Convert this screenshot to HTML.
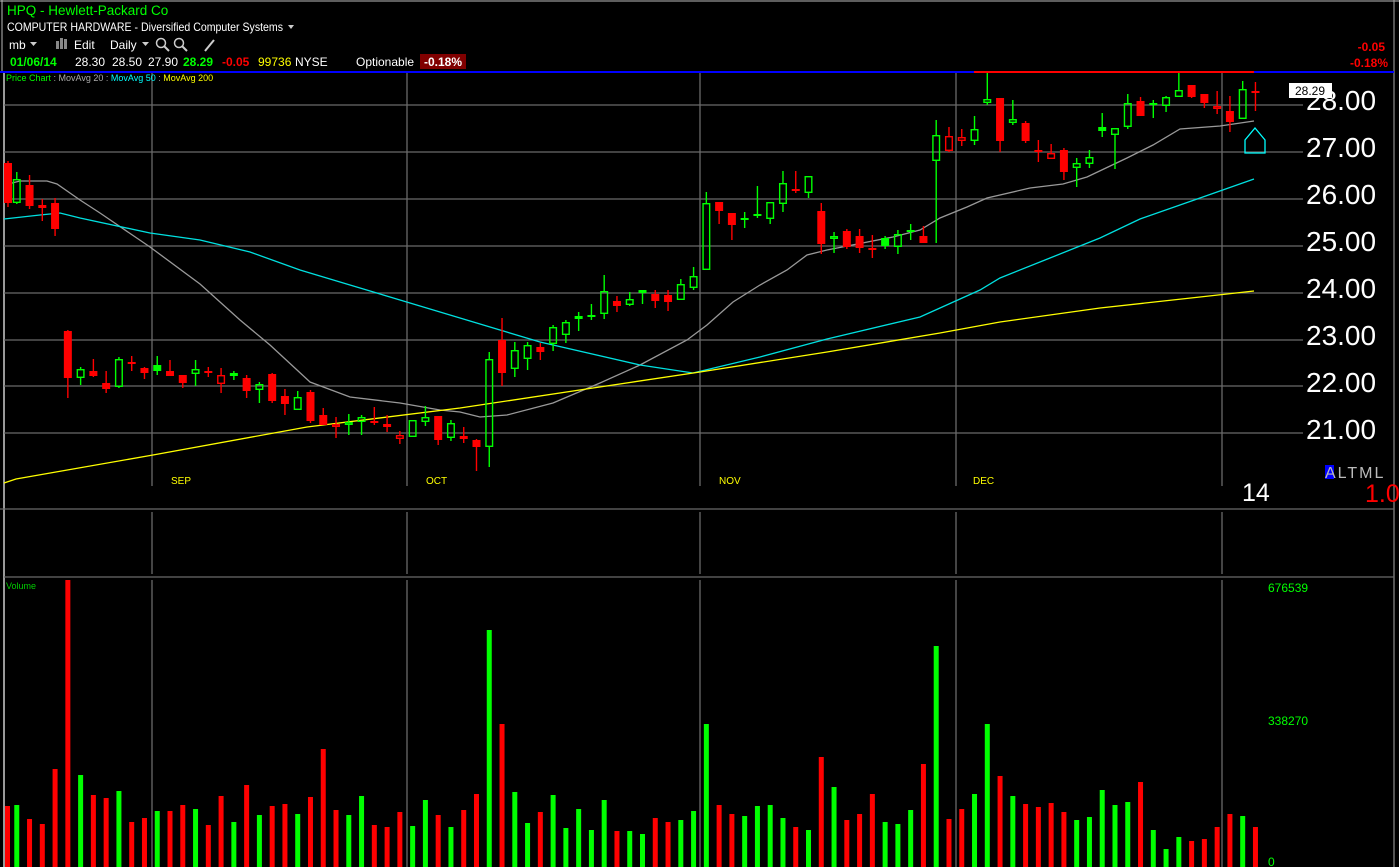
<!DOCTYPE html>
<html><head><meta charset="utf-8"><style>
html,body{margin:0;padding:0;background:#000;width:1399px;height:867px;overflow:hidden}
svg{display:block}
text{font-family:"Liberation Sans",sans-serif}
</style></head><body>
<svg id="s" width="1399" height="867" viewBox="0 0 1399 867" xmlns="http://www.w3.org/2000/svg">
<rect width="1399" height="867" fill="#000"/>
<line x1="0" y1="1" x2="1399" y2="1" stroke="#bbb"/>
<line x1="2" y1="0" x2="2" y2="72" stroke="#bbb"/>
<line x1="1394" y1="0" x2="1394" y2="867" stroke="#aaa"/>
<line x1="4" y1="72" x2="4" y2="867" stroke="#999" stroke-width="2"/>
<g id="grid" stroke="#6a6a6a" stroke-width="1.3"></g>
<line x1="0" y1="72" x2="1394" y2="72" stroke="#0000ff" stroke-width="2"/>
<line x1="974" y1="72" x2="1254" y2="72" stroke="#ff0000" stroke-width="2"/>
<g id="ma"></g>
<g id="cd"></g>
<g id="vol"></g>
<!-- header -->
<text x="7" y="15" fill="#00ff00" font-size="13.5">HPQ  -  Hewlett-Packard Co</text>
<text x="7" y="31" fill="#fff" font-size="12" textLength="276" lengthAdjust="spacingAndGlyphs">COMPUTER HARDWARE - Diversified Computer Systems</text>
<path d="M288,25 l6,0 l-3,4z" fill="#ccc"/>
<text x="9" y="49" fill="#fff" font-size="12">mb</text>
<path d="M30,42 l7,0 l-3.5,4z" fill="#ccc"/>
<rect x="56" y="41" width="3" height="8" fill="#888"/><rect x="60" y="38" width="3" height="11" fill="#888"/><rect x="64" y="39" width="3" height="10" fill="#888"/>
<text x="74" y="49" fill="#fff" font-size="12">Edit</text>
<text x="110" y="49" fill="#fff" font-size="12">Daily</text>
<path d="M142,42 l7,0 l-3.5,4z" fill="#ccc"/>
<circle cx="161" cy="43" r="4.5" fill="none" stroke="#ccc" stroke-width="1.5"/><line x1="164" y1="46" x2="169" y2="51" stroke="#ccc" stroke-width="2"/>
<circle cx="179" cy="43" r="4.5" fill="none" stroke="#ccc" stroke-width="1.5"/><line x1="182" y1="46" x2="187" y2="51" stroke="#ccc" stroke-width="2"/>
<line x1="205" y1="51" x2="214" y2="40" stroke="#ccc" stroke-width="2"/>
<text x="10" y="66" fill="#00ff00" font-size="12" font-weight="bold">01/06/14</text>
<text x="75" y="66" fill="#fff" font-size="12">28.30</text>
<text x="112" y="66" fill="#fff" font-size="12">28.50</text>
<text x="148" y="66" fill="#fff" font-size="12">27.90</text>
<text x="183" y="66" fill="#00ff00" font-size="12" font-weight="bold">28.29</text>
<text x="222" y="66" fill="#ff0000" font-size="12" font-weight="bold">-0.05</text>
<text x="258" y="66" fill="#ffff00" font-size="12">99736</text>
<text x="295" y="66" fill="#fff" font-size="12">NYSE</text>
<text x="356" y="66" fill="#fff" font-size="12">Optionable</text>
<rect x="420" y="54" width="46" height="15" fill="#800000"/>
<text x="424" y="66" fill="#fff" font-size="12" font-weight="bold">-0.18%</text>
<text x="1385" y="51" fill="#ff0000" font-size="12" font-weight="bold" text-anchor="end">-0.05</text>
<text x="1388" y="67" fill="#ff0000" font-size="12" font-weight="bold" text-anchor="end">-0.18%</text>
<text x="6" y="81" font-size="9"><tspan fill="#00ff00">Price Chart</tspan><tspan fill="#aaa"> : MovAvg 20 : </tspan><tspan fill="#00ffff">MovAvg 50 </tspan><tspan fill="#aaa">: </tspan><tspan fill="#ffff00">MovAvg 200</tspan></text>
<!-- price axis -->
<g fill="#fff" font-size="28">
<text x="1306" y="110">28.00</text><text x="1306" y="157">27.00</text><text x="1306" y="204">26.00</text><text x="1306" y="251">25.00</text>
<text x="1306" y="298">24.00</text><text x="1306" y="345">23.00</text><text x="1306" y="392">22.00</text><text x="1306" y="439">21.00</text>
</g>
<rect x="1289" y="83" width="43" height="15" fill="#fff"/>
<text x="1295" y="95" fill="#000" font-size="12">28.29</text>
<path d="M1255,128 L1265,140 L1265,153 L1245,153 L1245,140 Z" fill="none" stroke="#00ffff" stroke-width="1.3"/>
<g fill="#ffff00" font-size="10"><text x="171" y="484">SEP</text><text x="426" y="484">OCT</text><text x="719" y="484">NOV</text><text x="973" y="484">DEC</text></g>
<text x="1242" y="501" fill="#fff" font-size="25">14</text>
<rect x="1325" y="465" width="9" height="14" fill="#0000ff"/>
<text x="1325" y="478" fill="#bbb" font-size="16" letter-spacing="2">ALTML</text>
<text x="1365" y="502" fill="#ff0000" font-size="25">1.0</text>
<text x="6" y="589" fill="#00cc00" font-size="9">Volume</text>
<g fill="#00ff00" font-size="12"><text x="1268" y="592">676539</text><text x="1268" y="725">338270</text><text x="1268" y="866">0</text></g>
</svg>
<script>
(function(){
var NS="http://www.w3.org/2000/svg";
function el(p,t,a){var e=document.createElementNS(NS,t);for(var k in a)e.setAttribute(k,a[k]);p.appendChild(e);return e;}
var G=document.getElementById('grid');
[105,152,199,246,293,340,386,433].forEach(function(y){el(G,'line',{x1:4,y1:y,x2:1303,y2:y});});
el(G,'line',{x1:0,y1:509,x2:1394,y2:509});
el(G,'line',{x1:4,y1:577,x2:1394,y2:577});
[152,407,700,956,1222].forEach(function(x){
 el(G,'line',{x1:x,y1:73,x2:x,y2:486});el(G,'line',{x1:x,y1:512,x2:x,y2:574});el(G,'line',{x1:x,y1:580,x2:x,y2:867});});
var M=document.getElementById('ma');
function pl(pts,c){el(M,'polyline',{points:pts.map(function(p){return p.join(',')}).join(' '),fill:'none',stroke:c,'stroke-width':1.3});}
pl([[4,185],[20,181],[47,181],[57,184],[80,200],[100,213],[150,247],[200,284],[240,320],[270,345],[310,382],[350,397],[400,403],[440,410],[460,412],[480,417],[507,415],[553,403],[600,383],[640,365],[687,340],[707,325],[733,302],[760,285],[787,270],[807,255],[827,250],[893,237],[920,230],[940,218],[967,207],[987,198],[1030,188],[1063,184],[1087,177],[1127,158],[1153,145],[1180,129],[1220,126],[1254,121]],'#999');
pl([[4,219],[40,215],[60,213],[80,218],[150,233],[200,240],[250,252],[300,270],[350,285],[400,300],[460,318],[540,342],[640,365],[693,373],[760,357],[827,339],[920,317],[940,308],[980,290],[1000,278],[1050,258],[1100,238],[1140,219],[1200,198],[1254,179]],'#00e0e0');
pl([[4,483],[16,479],[153,455],[307,427],[460,408],[593,388],[700,372],[827,352],[940,333],[1000,322],[1100,308],[1200,297],[1254,291]],'#ffff00');
var C=[[163,203,161,207,'r'],[179,203,172,204,'g'],[185,206,175,209,'r'],[205,208,199,221,'r'],[203,229,198,236,'r'],[331,378,330,398,'r'],[369,378,367,385,'g'],[371,376,359,377,'r'],[383,389,371,393,'r'],[359,387,357,388,'g'],
[362,363,356,371,'r'],[368,373,367,379,'r'],[365,371,356,375,'G'],[371,376,360,376,'r'],[375,383,375,388,'r'],[369,374,360,386,'g'],[371,373,367,377,'r'],[375,384,368,393,'R'],[373,376,371,380,'G'],[378,391,375,398,'r'],
[384,390,382,403,'g'],[374,401,373,403,'r'],[396,404,389,415,'r'],[397,410,391,410,'g'],[392,421,390,423,'r'],[415,425,408,425,'r'],[424,427,417,438,'R'],[422,425,414,435,'g'],[417,422,415,435,'g'],[421,423,407,425,'r'],
[424,427,415,432,'r'],[435,439,431,444,'R'],[420,437,420,437,'g'],[417,422,406,426,'g'],[416,440,416,445,'r'],[423,438,420,441,'g'],[436,439,427,443,'r'],[440,447,439,471,'r'],[359,447,352,467,'g'],[340,373,318,386,'r'],
[350,369,342,377,'g'],[345,359,342,370,'g'],[347,352,343,360,'r'],[327,344,325,351,'g'],[322,335,320,343,'g'],[316,319,312,331,'G'],[315,317,304,320,'G'],[291,314,275,319,'g'],[301,306,296,312,'r'],[299,305,292,306,'g'],
[290,293,290,304,'G'],[294,301,290,308,'r'],[295,302,290,311,'r'],[284,300,279,300,'g'],[276,288,267,290,'g'],[203,270,192,270,'g'],[202,211,202,224,'r'],[213,225,213,240,'r'],[218,220,212,228,'g'],[214,215,186,218,'G'],
[202,219,202,224,'g'],[183,204,171,212,'g'],[189,191,171,193,'r'],[176,193,176,198,'g'],[211,244,203,254,'r'],[236,239,232,253,'g'],[231,247,229,249,'r'],[236,248,229,253,'r'],[248,249,235,258,'r'],[238,246,236,249,'G'],
[234,247,230,254,'g'],[230,231,224,240,'g'],[236,243,226,243,'r'],[135,161,120,243,'g'],[136,151,127,152,'R'],[137,141,129,146,'R'],[129,141,116,145,'g'],[99,103,73,105,'g'],[98,141,98,152,'r'],[119,123,100,125,'g'],
[123,141,121,143,'r'],[150,152,140,162,'R'],[153,159,144,159,'R'],[150,172,148,180,'r'],[163,168,158,187,'g'],[157,164,150,168,'g'],[127,131,113,137,'G'],[128,135,128,169,'g'],[103,127,94,129,'g'],[101,116,97,116,'r'],
[103,105,100,118,'g'],[97,106,96,112,'g'],[90,97,73,97,'g'],[85,97,85,98,'r'],[94,103,94,108,'r'],[106,109,91,114,'R'],[111,122,96,132,'r'],[89,119,81,119,'g'],[91,91,82,111,'r']];
var V=[708,705,747,762,597,30,615,675,684,663,756,744,723,723,705,717,765,678,756,645,735,708,702,732,681,537,720,735,678,765,771,726,768,690,735,771,720,672,180,462,666,759,726,675,774,717,780,690,783,783,792,744,756,750,723,
462,705,732,738,708,705,744,771,780,561,651,750,732,672,756,762,720,582,228,747,717,672,462,618,678,702,711,699,726,750,741,660,705,696,636,780,837,801,813,807,771,732,738,771];
var CD=document.getElementById('cd'),VG=document.getElementById('vol');
for(var i=0;i<C.length;i++){
 var cx=4+12.77*i,c=C[i],t=c[4],col=(t=='r'||t=='R')?'#ff0000':'#00ff00',fill=(t=='r'||t=='G');
 var bt=c[0],bb=Math.max(c[1],c[0]+2);
 if(i==0){cx=8;}
 el(CD,'line',{x1:cx,y1:c[2],x2:cx,y2:bt,stroke:col,'stroke-width':1.4});
 el(CD,'line',{x1:cx,y1:bb,x2:cx,y2:c[3],stroke:col,'stroke-width':1.4});
 if(fill) el(CD,'rect',{x:cx-4,y:bt,width:8,height:bb-bt,fill:col});
 else el(CD,'rect',{x:cx-3.3,y:bt+0.7,width:6.6,height:Math.max(bb-bt-1.4,0.6),fill:'none',stroke:col,'stroke-width':1.4});
 var vx=(i==0)?5:cx-2.5, vy=570+V[i]/3;
 el(VG,'rect',{x:vx,y:vy,width:5,height:867-vy,fill:col});
}
})();
</script>
</body></html>
